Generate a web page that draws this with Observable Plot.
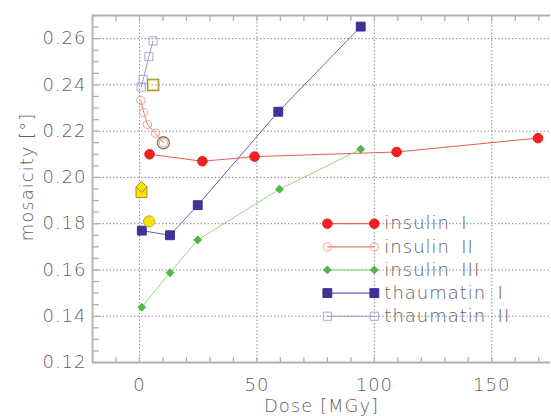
<!DOCTYPE html>
<html><head><meta charset="utf-8">
<script src="https://cdn.jsdelivr.net/npm/d3@7"></script>
<script src="https://cdn.jsdelivr.net/npm/@observablehq/plot@0.6"></script>
<style>
body{margin:0;background:#fff}
#chart svg{font-family:"DejaVu Sans",sans-serif;font-weight:200;letter-spacing:1px}
</style>
</head><body><div id="chart"></div>
<script>
// Series data
const seriesNames = ["insulin I", "insulin II", "insulin III", "thaumatin I", "thaumatin II"];
const insulinI_dose = [4.3, 26.8, 49, 109.5, 169.7];
const insulinI_mos  = [0.210, 0.207, 0.209, 0.211, 0.217];
const insulinII_dose = [0.6, 1.8, 3.4, 6.8, 10.2];
const insulinII_mos  = [0.2333, 0.2281, 0.2229, 0.2191, 0.2150];
const insulinIII_dose = [1, 13, 24.8, 59.6, 94.2];
const insulinIII_mos  = [0.1439, 0.1588, 0.1730, 0.1949, 0.2122];
const thaumatinI_dose = [1, 13, 24.8, 59.1, 94.2];
const thaumatinI_mos  = [0.177, 0.175, 0.188, 0.2284, 0.2652];
const thaumatinII_dose = [0.7, 1.6, 4.0, 5.8];
const thaumatinII_mos  = [0.2391, 0.2423, 0.2522, 0.2590];
// Extra (yellow) reference points
const extraKind = ["squareOpen", "circleOpen", "square", "diamond", "circle"];
const extraDose = [5.8, 10.2, 0.85, 0.85, 4.1];
const extraMos  = [0.240, 0.215, 0.1937, 0.1959, 0.181];
// Ticks
const xMajor = [0, 50, 100, 150];
const yMajor = [0.12, 0.14, 0.16, 0.18, 0.20, 0.22, 0.24, 0.26];
const xMinor = d3.range(-20, 176, 10);
const yMinor = d3.range(120, 271, 5).map(v => v / 1000);

const styles = {
  "insulin I":   {line:"#ec5a50", stroke:"#e42020", fill:"#ee2222", symbol:"circle", r:4.8},
  "insulin II":  {line:"#ec7a68", stroke:"#f0a08c", fill:"none",    symbol:"circle", r:4.2},
  "insulin III": {line:"#90d880", stroke:"#4cb040", fill:"#50b844", symbol:"diamond2", r:3.5},
  "thaumatin I": {line:"#6a62b4", stroke:"#3a3090", fill:"#3e3498", symbol:"square", r:5.0},
  "thaumatin II":{line:"#9a98d8", stroke:"#a8a6dc", fill:"none",    symbol:"square", r:4.6}
};
const doses = [insulinI_dose, insulinII_dose, insulinIII_dose, thaumatinI_dose, thaumatinII_dose];
const mos = [insulinI_mos, insulinII_mos, insulinIII_mos, thaumatinI_mos, thaumatinII_mos];
const rows = seriesNames.map((name, i) => doses[i].map((d, j) => ({name, dose:d, mos:mos[i][j]})));

const extras = extraKind.map((k, i) => ({kind:k, dose:extraDose[i], mos:extraMos[i]}));

// Legend laid out in data coordinates
const legX1 = 80, legX2 = 100, legTop = 0.18, legStep = 0.01;
const legend = seriesNames.map((name, i) => ({name, y: legTop - i * legStep}));

const gridColor = "#8a8a8a", axisColor = "#b0b0b0", textColor = "#606060";
const xTick = 5, yTick = 7;

const marks = [
  Plot.ruleX(xMajor, {stroke:gridColor, strokeDasharray:"1.5,2", strokeWidth:1}),
  Plot.ruleY(yMajor.filter(v => v > 0.125), {stroke:gridColor, strokeDasharray:"1.5,2", strokeWidth:1}),
  // inward minor ticks: axis shifted inward by tick length
  Plot.axisX({ticks:xMinor, tickSize:xTick, dy:-xTick, text:null, stroke:axisColor, strokeWidth:1.3, anchor:"bottom", label:null}),
  Plot.axisX({ticks:xMinor, tickSize:xTick, dy:xTick, text:null, stroke:axisColor, strokeWidth:1.3, anchor:"top", label:null}),
  Plot.axisY({ticks:yMinor, tickSize:yTick, dx:yTick, text:null, stroke:axisColor, strokeWidth:1.3, anchor:"left", label:null}),
  Plot.axisX({ticks:xMajor, tickSize:0, tickPadding:16, fill:textColor, fontSize:18, anchor:"bottom", label:null}),
  Plot.axisY({ticks:yMajor, tickSize:0, tickPadding:6, tickFormat:d3.format(".2f"), fill:textColor, fontSize:18, anchor:"left", label:null}),
  Plot.ruleX([-20], {stroke:axisColor, strokeWidth:1.8}),
  Plot.ruleY([0.12], {stroke:axisColor, strokeWidth:1.8}),
  Plot.ruleY([0.27], {stroke:axisColor, strokeWidth:1.8}),
  Plot.text(["mosaicity [°]"], {frameAnchor:"left", rotate:-90, dx:-65, dy:-12, fontSize:18, fill:textColor, textAnchor:"middle", lineAnchor:"middle"}),
  Plot.text(["Dose [MGy]"], {frameAnchor:"bottom", dy:44, fontSize:18, fill:textColor, textAnchor:"middle", lineAnchor:"middle"})
];

rows.forEach((data, i) => {
  const s = styles[seriesNames[i]];
  marks.push(Plot.line(data, {x:"dose", y:"mos", stroke:s.line, strokeWidth:1}));
});
rows.forEach((data, i) => {
  const s = styles[seriesNames[i]];
  marks.push(Plot.dot(data, {x:"dose", y:"mos", symbol:s.symbol, r:s.r, fill:s.fill, stroke:s.stroke, strokeWidth:1}));
});

// yellow extras
const yFill = "#f8e400", yStroke = "#a09038";
const ex = k => extras.filter(e => e.kind === k);
marks.push(Plot.dot(ex("squareOpen"), {x:"dose", y:"mos", symbol:"square", r:6.2, fill:"none", stroke:yStroke, strokeWidth:1.5}));
marks.push(Plot.dot(ex("squareOpen"), {x:"dose", y:"mos", symbol:"square", r:5.2, fill:"none", stroke:"#e8dc70", strokeWidth:1}));
marks.push(Plot.dot(ex("circleOpen"), {x:"dose", y:"mos", symbol:"circle", r:6, fill:"none", stroke:"#8a7a50", strokeWidth:1.4}));
marks.push(Plot.dot(ex("square"), {x:"dose", y:"mos", symbol:"square", r:6.2, fill:yFill, stroke:yStroke, strokeWidth:1}));
marks.push(Plot.dot(ex("diamond"), {x:"dose", y:"mos", symbol:"diamond2", r:5, fill:yFill, stroke:yStroke, strokeWidth:1}));
marks.push(Plot.dot(ex("circle"), {x:"dose", y:"mos", symbol:"circle", r:5.6, fill:yFill, stroke:"#c0a830", strokeWidth:1}));

// legend
legend.forEach(l => {
  const s = styles[l.name];
  marks.push(Plot.link([l], {x1:() => legX1, x2:() => legX2, y1:"y", y2:"y", stroke:s.line, strokeWidth:1.2}));
  marks.push(Plot.dot([legX1, legX2].map(x => ({x, y:l.y})), {x:"x", y:"y", symbol:s.symbol, r:s.r, fill:s.fill, stroke:s.stroke, strokeWidth:1}));
  marks.push(Plot.text([l], {x:() => legX2, y:"y", text:d => d.name.replace(" ", " \u2009"), dx:10, textAnchor:"start", lineAnchor:"middle", fontSize:18, fill:textColor}));
});

const chart = Plot.plot({
  width:551, height:416,
  marginLeft:92, marginRight:1, marginTop:15, marginBottom:54,
  x:{domain:[-20,175]},
  y:{domain:[0.12,0.27]},
  style:{background:"#fff", overflow:"visible"},
  marks
});
document.getElementById("chart").appendChild(chart);
</script>
</body></html>
